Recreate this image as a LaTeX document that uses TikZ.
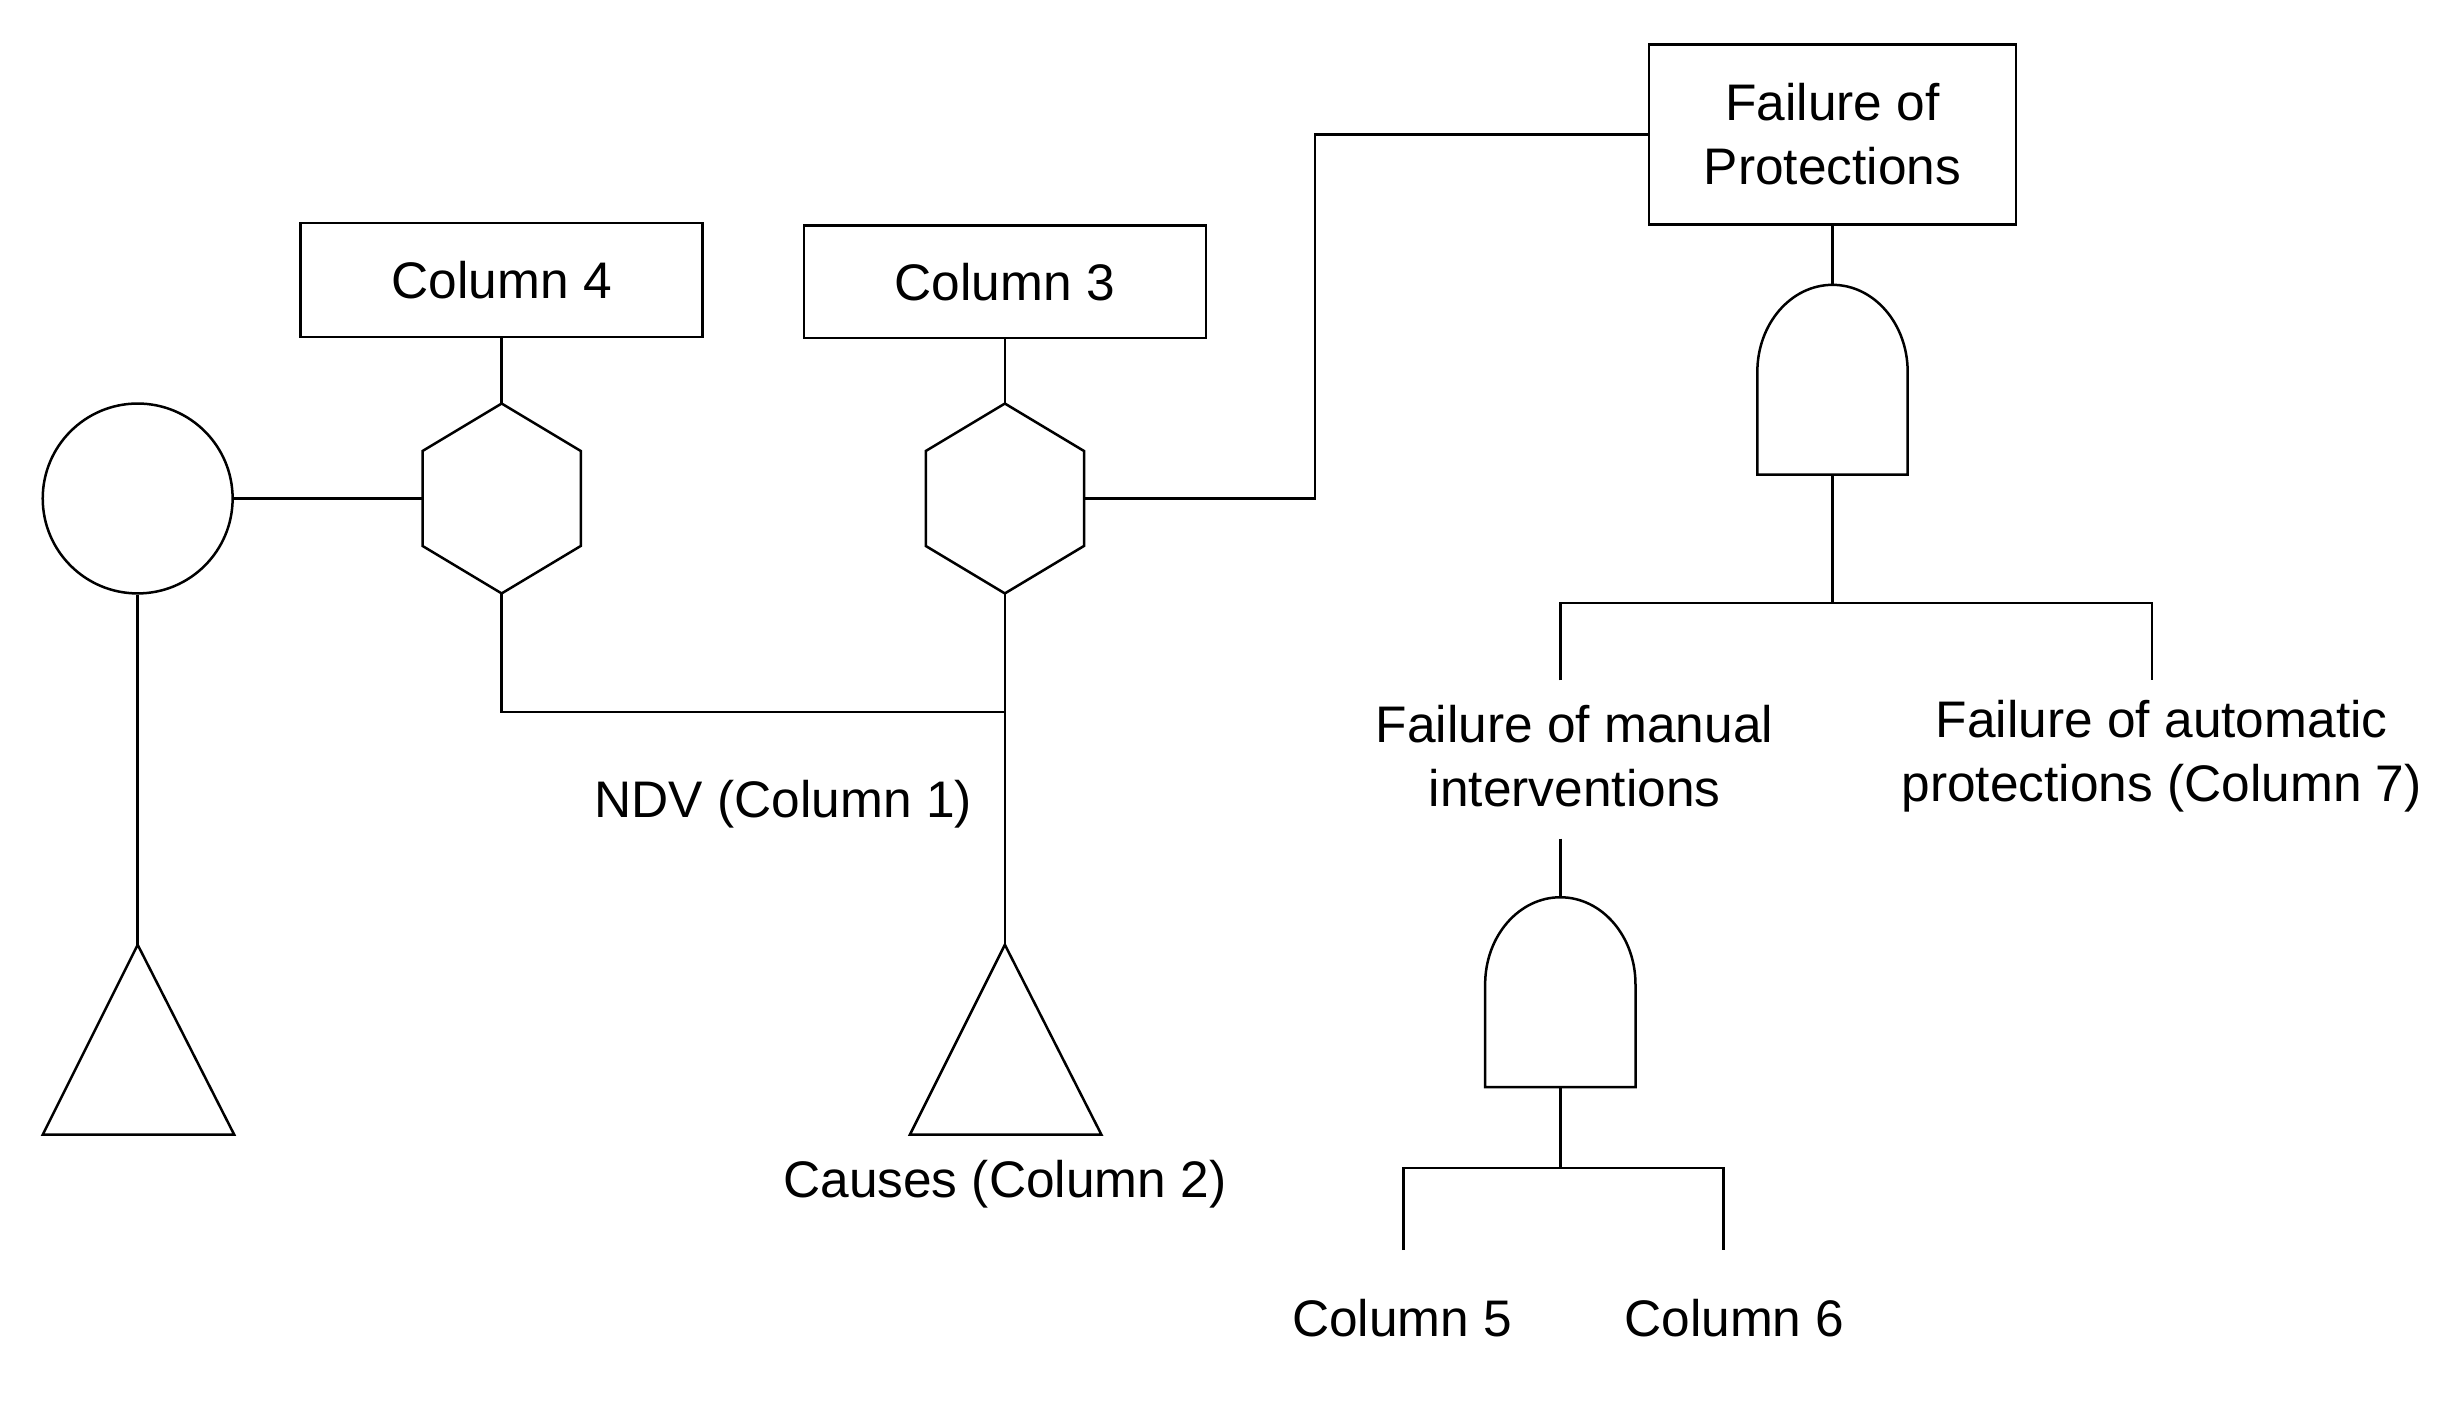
\documentclass[tikz,border=0pt]{standalone}
\usepackage{fontspec}
\setmainfont{Liberation Sans}
\begin{document}
\begin{tikzpicture}[x=0.02cm,y=-0.02cm,line width=0.9pt,
  box/.style={draw,minimum width=254*0.02cm,minimum height=72*0.02cm,inner sep=0pt},
  lbl/.style={align=center,font=\fontsize{18.5}{23}\selectfont},
  gate/.pic={\draw (-47.5,60)--(-47.5,-5) arc[start angle=180,end angle=360,x radius=47.5,y radius=55]--(47.5,60)--cycle;}]
\useasboundingbox (0,0) rectangle (1552,885);
% left column
\node[draw,circle,minimum size=120*0.02cm,inner sep=0pt] (c) at (87,315) {};
\draw (87,597) coordinate (t1) -- (27,717) -- (148,717) -- cycle;
\draw (c.south) -- (t1);
% column 4 & hex
\node[box,lbl] (c4) at (317,177) {Column 4};
\draw (317,255) coordinate (h1t) -- (367,285) -- (367,345) -- (317,375) coordinate (h1b) -- (267,345) -- (267,285) -- cycle;
\coordinate (h1l) at (267,315);
\draw (c4.south) -- (h1t);
\draw (c.east) -- (h1l);
% column 3 & hex
\node[box,lbl,minimum height=71*0.02cm] (c3) at (635,178) {Column 3};
\draw (635,255) coordinate (h2t) -- (685,285) -- (685,345) -- (635,375) coordinate (h2b) -- (585,345) -- (585,285) -- cycle;
\coordinate (h2r) at (685,315);
\draw (c3.south) -- (h2t);
\draw (635,597) coordinate (t2) -- (575,717) -- (696,717) -- cycle;
\coordinate (j) at (635,450);
\draw (h1b) |- (j);
\draw (h2b) -- (t2);
\node[lbl] (ndv) at (495,508) {NDV (Column 1)};
\node[lbl] (ca) at (635,748) {Causes (Column 2)};
% failure of protections
\node[box,lbl,minimum width=232*0.02cm,minimum height=114*0.02cm] (fp) at (1158,85) {Failure of\\Protections};
\draw (h2r) -- (831,315) |- (fp.west);
\pic at (1158,240) {gate};
\draw (fp.south) -- (1158,180);
\coordinate (g1b) at (1158,300);
\draw (g1b) -- (1158,381);
\draw (986,430) |- (1360,381) -- (1360,430);
\node[lbl] (fm) at (995,478) {Failure of manual\\interventions};
\node[lbl] (fa) at (1366,478) {Failure of automatic\\protections (Column 7)};
\draw (986,530) -- (986,567);
\pic at (986,627) {gate};
\draw (986,687) -- (986,738);
\draw (887,790) |- (1089,738) -- (1089,790);
\node[lbl] (c5) at (886,833) {Column 5};
\node[lbl] (c6) at (1096,833) {Column 6};
\end{tikzpicture}
\end{document}
